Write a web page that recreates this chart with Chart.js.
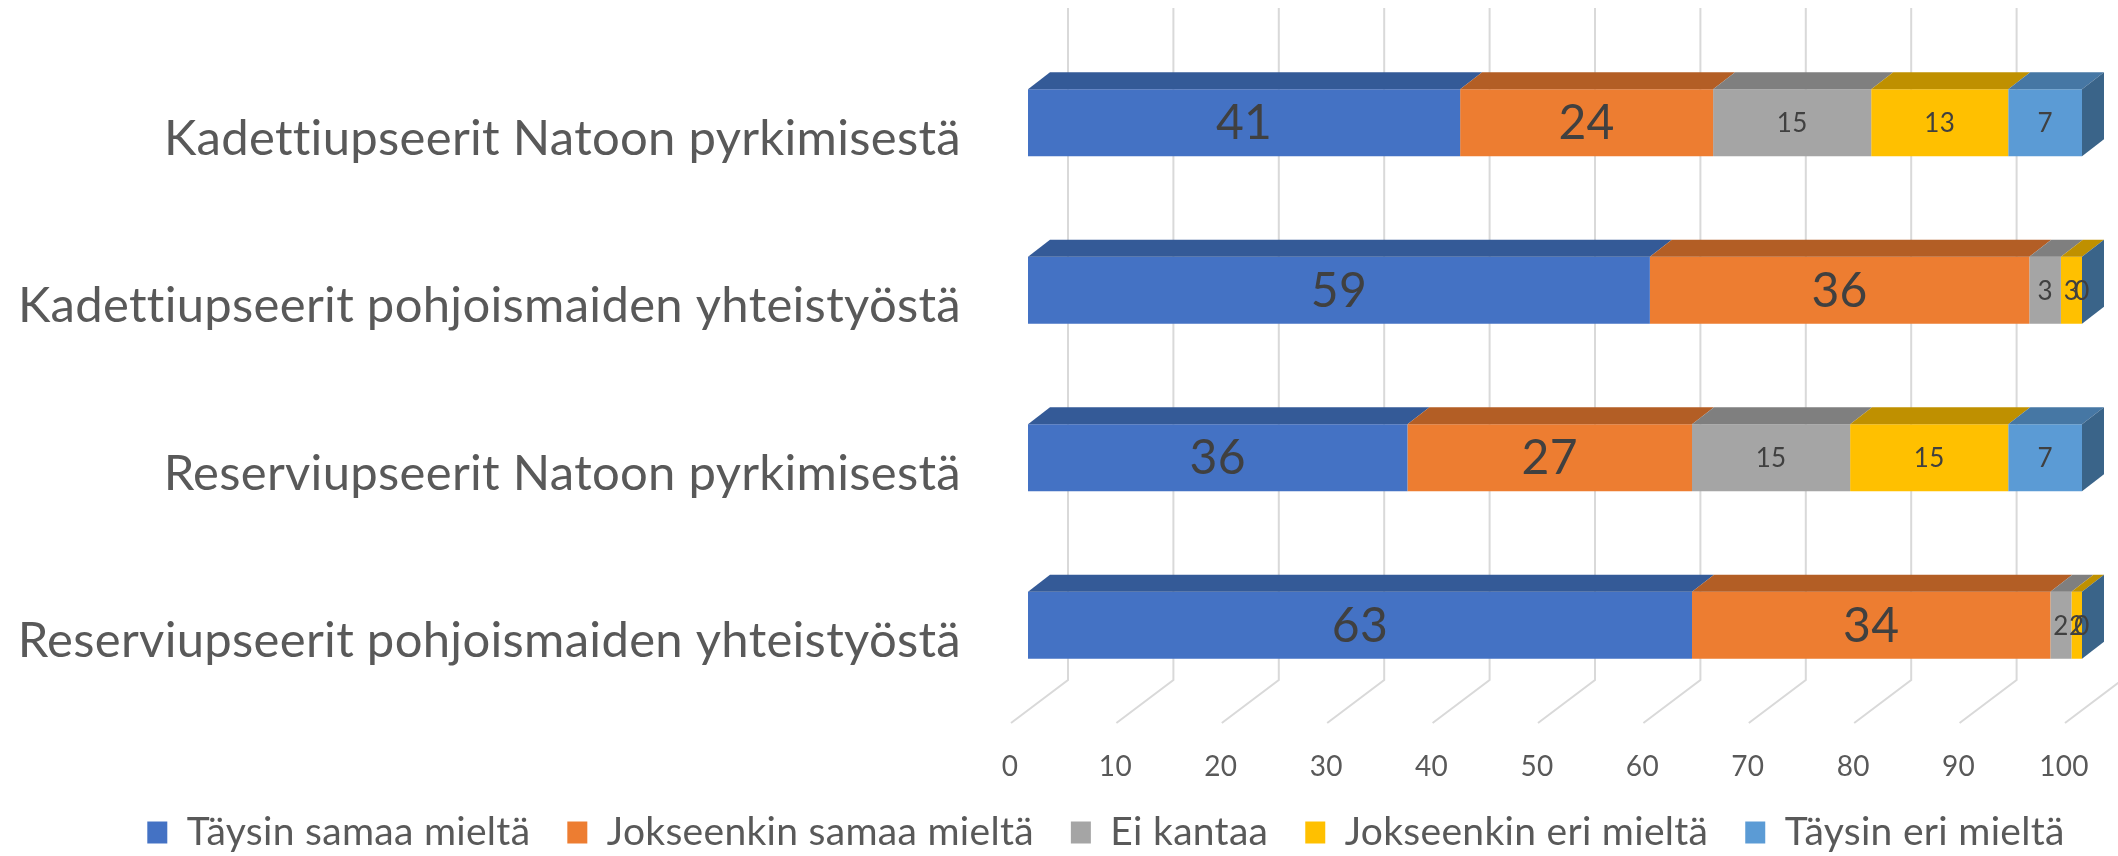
<!DOCTYPE html>
<html lang="fi">
<head>
<meta charset="utf-8">
<title>Upseerien kannat</title>
<script src="https://cdn.jsdelivr.net/npm/chart.js@4.4.1/dist/chart.umd.min.js"></script>
<style>
  html, body { margin: 0; padding: 0; background: #fff; }
  #wrap { width: 2118px; height: 856px; position: relative; }
</style>
</head>
<body>
<div id="wrap"><canvas id="chart"></canvas></div>
<script>
const CATEGORIES = [
  "Kadettiupseerit Natoon pyrkimisestä",
  "Kadettiupseerit pohjoismaiden yhteistyöstä",
  "Reserviupseerit Natoon pyrkimisestä",
  "Reserviupseerit pohjoismaiden yhteistyöstä",
];

const SERIES_NAMES = [
  "Täysin samaa mieltä",
  "Jokseenkin samaa mieltä",
  "Ei kantaa",
  "Jokseenkin eri mieltä",
  "Täysin eri mieltä",
];

const TAYSIN_SAMAA = [41, 59, 36, 63];
const JOKSEENKIN_SAMAA = [24, 36, 27, 34];
const EI_KANTAA = [15, 3, 15, 2];
const JOKSEENKIN_ERI = [13, 3, 15, 2];
const TAYSIN_ERI = [7, 0, 7, 0];

const X_TICKS = [0, 10, 20, 30, 40, 50, 60, 70, 80, 90, 100];

// Office-värit + tummemmat sävyt 3D-pinnoille
const COLORS = ["#4472C4", "#ED7D31", "#A5A5A5", "#FFC000", "#5B9BD5"];
const TOP_COLORS = ["#345A97", "#B35E25", "#7F7F7F", "#BF9000", "#4677A4"];
const SIDE_COLOR = "#3A6489";

const FONT = "Lato";
const DEPTH_X = 22;
const DEPTH_Y = 17;

const fake3d = {
  id: "fake3d",

  // pieni harvennus -> ei ti-ligatuureja, leveys lähempänä Calibria
  beforeUpdate(chart) {
    chart.ctx.letterSpacing = "0.3px";
  },

  // legenda hieman oikealle/alas kuten Excelissä
  afterLayout(chart) {
    const lg = chart.legend;
    if (!lg) return;
    lg.left += 65;
    lg.right += 65;
    lg.top += 6;
    lg.bottom += 6;
    chart.scales.x.bottom = lg.top;
  },

  // takaseinän ja lattian apuviivat
  beforeDatasetsDraw(chart) {
    const { ctx, chartArea, scales } = chart;
    const x = scales.x;
    const wallTop = 8;
    const floorBack = chartArea.bottom - 29;
    const floorFront = chartArea.bottom + 14;
    ctx.save();
    ctx.strokeStyle = "#D9D9D9";
    ctx.lineWidth = 2;
    X_TICKS.forEach(v => {
      const px = x.getPixelForValue(v);
      ctx.beginPath();
      ctx.moveTo(px + 40, wallTop);
      ctx.lineTo(px + 40, floorBack);
      ctx.lineTo(px - 17, floorFront);
      ctx.stroke();
    });
    ctx.restore();
  },

  afterDatasetsDraw(chart) {
    const { ctx, chartArea } = chart;
    const clampX = v => Math.min(Math.max(v, chartArea.left), chartArea.right);
    const n = chart.data.datasets.length;
    const boxes = [];

    ctx.save();
    chart.data.datasets.forEach((ds, i) => {
      const meta = chart.getDatasetMeta(i);
      meta.data.forEach((bar, j) => {
        const p = bar.getProps(["x", "y", "base", "height"], true);
        const l = clampX(Math.min(p.x, p.base));
        const r = clampX(Math.max(p.x, p.base));
        const top = p.y - p.height / 2;
        const bottom = p.y + p.height / 2;

        if (r > l) {
          ctx.fillStyle = TOP_COLORS[i];
          ctx.beginPath();
          ctx.moveTo(l, top);
          ctx.lineTo(r, top);
          ctx.lineTo(r + DEPTH_X, top - DEPTH_Y);
          ctx.lineTo(l + DEPTH_X, top - DEPTH_Y);
          ctx.closePath();
          ctx.fill();
        }
        if (i === n - 1) {
          ctx.fillStyle = SIDE_COLOR;
          ctx.beginPath();
          ctx.moveTo(r, top);
          ctx.lineTo(r + DEPTH_X, top - DEPTH_Y);
          ctx.lineTo(r + DEPTH_X, bottom - DEPTH_Y);
          ctx.lineTo(r, bottom);
          ctx.closePath();
          ctx.fill();
        }
        boxes.push({ i, text: String(ds.data[j]), cx: (l + r) / 2, cy: p.y });
      });
    });

    // arvot palkkien päälle
    ctx.fillStyle = "#404040";
    ctx.textAlign = "center";
    ctx.textBaseline = "middle";
    boxes.forEach(b => {
      ctx.font = (b.i < 2 ? "48px " : "26px ") + FONT;
      ctx.fillText(b.text, b.cx, b.cy + 1);
    });
    ctx.restore();
  }
};

const SERIES = [TAYSIN_SAMAA, JOKSEENKIN_SAMAA, EI_KANTAA, JOKSEENKIN_ERI, TAYSIN_ERI];

new Chart(document.getElementById("chart"), {
  type: "bar",
  data: {
    labels: CATEGORIES,
    datasets: SERIES.map((vals, i) => ({
      label: SERIES_NAMES[i],
      data: vals,
      backgroundColor: COLORS[i],
      borderWidth: 0,
      clip: 0,
      categoryPercentage: 1,
      barPercentage: 0.4,
    })),
  },
  options: {
    indexAxis: "y",
    responsive: true,
    maintainAspectRatio: false,
    animation: false,
    layout: { padding: { left: 0, right: 36, top: 39, bottom: 0 } },
    scales: {
      x: {
        stacked: true,
        min: X_TICKS[0],
        max: X_TICKS[X_TICKS.length - 1],
        afterBuildTicks: s => { s.ticks = X_TICKS.map(v => ({ value: v })); },
        afterFit: s => { s.height = 61; s.paddingLeft = 0; s.paddingRight = 0; },
        grid: { display: false },
        border: { display: false },
        ticks: {
          font: { family: FONT, size: 28 },
          color: "#595959",
          padding: 33,
          labelOffset: -18,
          maxRotation: 0,
          autoSkip: false,
        },
      },
      y: {
        stacked: true,
        afterFit: s => { s.width = 1028; s.paddingTop = 0; s.paddingBottom = 0; },
        grid: { display: false },
        border: { display: false },
        ticks: {
          font: { family: FONT, size: 49 },
          color: "#595959",
          padding: 59,
          labelOffset: 16,
          autoSkip: false,
        },
      },
    },
    plugins: {
      tooltip: { enabled: false },
      legend: {
        position: "bottom",
        labels: {
          font: { family: FONT, size: 39 },
          color: "#595959",
          boxWidth: 20,
          boxHeight: 22,
          padding: 37,
        },
      },
    },
  },
  plugins: [fake3d],
});
</script>
</body>
</html>
